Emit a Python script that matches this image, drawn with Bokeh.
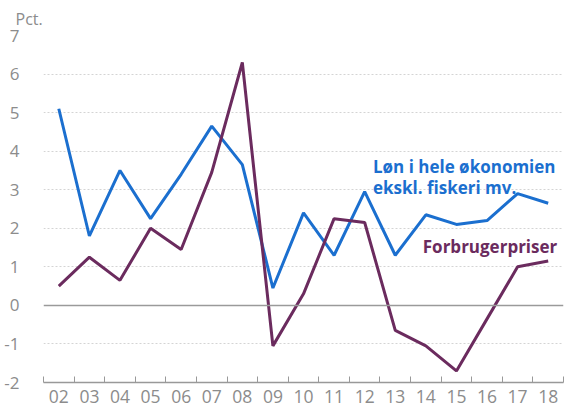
from bokeh.plotting import figure
from bokeh.models import Range1d, FixedTicker, Label, Span
from bokeh.embed import file_html
from bokeh.resources import INLINE

years = list(range(2, 19))
year_labels = ["02", "03", "04", "05", "06", "07", "08", "09", "10",
               "11", "12", "13", "14", "15", "16", "17", "18"]
loen = [5.1, 1.8, 3.5, 2.25, 3.4, 4.65, 3.65, 0.45, 2.4, 1.3, 2.95,
        1.3, 2.35, 2.1, 2.2, 2.9, 2.65]
forbrug = [0.5, 1.25, 0.65, 2.0, 1.45, 3.45, 6.3, -1.05, 0.3, 2.25,
           2.15, -0.65, -1.05, -1.7, -0.35, 1.0, 1.15]
y_ticks = [-2, -1, 0, 1, 2, 3, 4, 5, 6, 7]

BLUE = "#1b6fcf"
PURPLE = "#6b2b5e"
GRAY = "#8c8c8c"

p = figure(width=568, height=412, output_backend="svg", toolbar_location=None,
           x_range=Range1d(1.5, 18.5), y_range=Range1d(-2, 7),
           min_border_left=43, min_border_right=5, min_border_top=35,
           min_border_bottom=30)
p.outline_line_color = None
p.background_fill_color = "white"
p.border_fill_color = "white"

p.title.text = "Pct."
p.title.text_font = "Open Sans"
p.title.text_font_size = "16px"
p.title.text_font_style = "normal"
p.title.text_color = GRAY
p.title.align = "left"
p.title.offset = -28
p.title.standoff = 11

# x axis
p.xaxis.ticker = FixedTicker(ticks=years, minor_ticks=[y + 0.5 for y in range(1, 19)])
p.xaxis.major_label_overrides = {y: l for y, l in zip(years, year_labels)}
p.xaxis.major_tick_in = 0
p.xaxis.major_tick_out = 0
p.xaxis.minor_tick_in = 6
p.xaxis.minor_tick_out = 0
p.xaxis.minor_tick_line_color = "#999999"
p.xaxis.axis_line_color = "#999999"
p.xaxis.axis_line_width = 1.5
p.xaxis.major_label_text_font = "Open Sans"
p.xaxis.major_label_text_font_size = "17.5px"
p.xaxis.major_label_text_color = GRAY
p.xaxis.major_label_standoff = 7

# y axis
p.yaxis.ticker = FixedTicker(ticks=y_ticks)
p.yaxis.major_label_overrides = {t: str(t) for t in y_ticks}
p.yaxis.axis_line_color = None
p.yaxis.major_tick_line_color = None
p.yaxis.minor_tick_line_color = None
p.yaxis.major_label_text_font = "Open Sans"
p.yaxis.major_label_text_font_size = "17px"
p.yaxis.major_label_text_color = GRAY
p.yaxis.major_label_standoff = 18

p.xgrid.grid_line_color = None
p.ygrid.ticker = FixedTicker(ticks=[-1, 1, 2, 3, 4, 5, 6, 7])
p.ygrid.grid_line_color = "#d4d4d4"
p.ygrid.grid_line_dash = "2 2"
p.ygrid.grid_line_width = 1

p.add_layout(Span(location=0, dimension="width", line_color="#9a9a9a", line_width=1.5))

p.line(years, loen, line_color=BLUE, line_width=3)
p.line(years, forbrug, line_color=PURPLE, line_width=3)

for txt, x, y, c in [("Løn i hele økonomien", 12.27, 3.6, BLUE),
                     ("ekskl. fiskeri mv.", 12.27, 3.06, BLUE),
                     ("Forbrugerpriser", 13.9, 1.52, PURPLE)]:
    p.add_layout(Label(x=x, y=y, text=txt, text_color=c, text_font="Open Sans",
                       text_font_style="bold", text_font_size="17px",
                       text_baseline="alphabetic", text_align="left"))

open("out.html", "w").write(file_html(p, INLINE))
